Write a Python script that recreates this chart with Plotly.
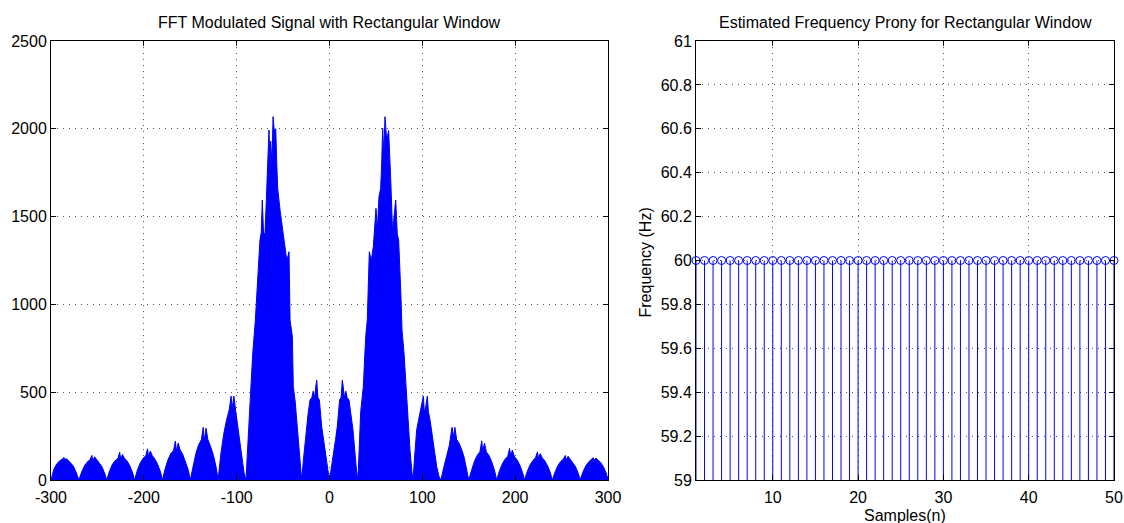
import plotly.graph_objects as go

# Magnitude spectrum of the modulated signal (rectangular window), outline vertices per lobe
FFT_FREQ = [
    -300, -297, -294, -291, -288, -286, -285, -284, -282, -279, -276, -273,
    -270, -267, -264, -261, -258, -256, -255, -253, -251, -248, -245, -242,
    -240, -237, -234, -231, -228, -226, -225, -223, -221, -218, -215, -212,
    -210, -207, -204, -201, -198, -196, -195, -193, -191, -188, -185, -182,
    -180, -177, -174, -171, -168, -166, -165, -163, -161, -158, -155, -152,
    -150, -147, -144, -141, -138, -136, -135, -133, -131, -128, -125, -122,
    -120, -117, -114, -111, -108, -106, -105, -104, -103, -101, -98, -95, -92,
    -90, -88, -85.6, -82.7, -80, -78.4, -76, -74.9, -73.5, -72.4, -71, -69.5,
    -68, -67, -65.2, -64, -63.4, -62, -60.8, -59.6, -57.9, -56.8, -55.8, -53.3,
    -51, -48.3, -46, -43.6, -42.5, -40, -39, -37, -35.3, -32.5,
    -30, -28, -25.3, -23, -21, -19, -17.6, -16, -14.6, -13.8, -12.5, -10.9,
    -8.4, -6.5, -4.8, -1.2,
    0, 1.2, 4.8, 6.5, 8.4, 10.9, 12.5, 13.8, 14.6, 16, 17.6, 19, 21, 23, 25.3, 28,
    30, 31.1, 33.6, 36.4, 39, 40.7, 42.9, 45, 47.2, 50.1, 51.5, 53.3, 55.1, 56.2,
    57.3, 58.5, 59.8, 61.6, 63.7, 65.9, 67, 68, 69.5, 71.3, 73, 74.5, 77, 78.1,
    80.3, 83.2, 86.7, 88.9,
    90, 91.5, 93.9, 95.5, 97.5, 99.5, 101.1, 102, 103.2, 105.4, 106.5, 108.3,
    110, 111.9, 115.5, 118,
    120, 123, 126, 129, 132, 134, 135, 137, 139, 142, 145, 148,
    150, 153, 156, 159, 162, 164, 165, 167, 169, 172, 175, 178,
    180, 183, 186, 189, 192, 194, 195, 197, 199, 202, 205, 208,
    210, 213, 216, 219, 222, 224, 225, 227, 229, 232, 235, 238,
    240, 243, 246, 249, 252, 254, 255, 257, 259, 262, 265, 268,
    270, 273, 276, 279, 282, 284, 285, 287, 289, 292, 295, 298, 300,
]
FFT_MAG = [
    0, 60, 90, 108, 118, 128, 112, 122, 115, 100, 80, 45,
    0, 45, 80, 102, 115, 140, 110, 132, 118, 100, 75, 35,
    0, 50, 88, 110, 122, 158, 120, 145, 125, 108, 80, 40,
    0, 55, 95, 122, 138, 178, 135, 165, 140, 118, 88, 45,
    0, 65, 115, 150, 168, 222, 165, 210, 172, 145, 105, 55,
    0, 80, 150, 200, 230, 300, 220, 295, 230, 190, 140, 70,
    0, 150, 260, 340, 400, 478, 410, 440, 478, 390, 280, 140, 40,
    0, 200, 456, 721, 900, 1044, 1200, 1367, 1410, 1594, 1400, 1405,
    1600, 1727, 1993, 1780, 1930, 1800, 2069, 1993, 2000, 1800, 1661, 1538,
    1450, 1319, 1250, 1300, 911, 816, 531, 450, 342, 114,
    0, 120, 285, 380, 456, 470, 506, 470, 540, 569, 470, 456,
    304, 230, 152, 38,
    0, 38, 152, 230, 304, 456, 470, 569, 540, 470, 506, 470, 456, 380, 285, 120,
    0, 60, 389, 531, 816, 911, 1300, 1250, 1329, 1547, 1420, 1614, 1660, 1800,
    2003, 1850, 2069, 1936, 1990, 1718, 1550, 1405, 1500, 1594, 1400, 1367, 1044, 854,
    721, 437, 171, 40,
    0, 120, 285, 330, 380, 420, 478, 400, 399, 478, 390, 342,
    280, 209, 76, 20,
    0, 70, 140, 195, 300, 240, 300, 230, 215, 180, 130, 60,
    0, 55, 105, 140, 160, 223, 165, 210, 160, 138, 100, 50,
    0, 50, 90, 118, 135, 180, 140, 170, 135, 115, 85, 42,
    0, 48, 86, 110, 128, 160, 125, 150, 128, 108, 80, 40,
    0, 45, 82, 105, 120, 140, 115, 135, 120, 102, 76, 38,
    0, 45, 80, 102, 116, 127, 112, 125, 116, 100, 76, 40, 5,
]
FREQ_AXIS_TICKS = [-300, -200, -100, 0, 100, 200, 300]
FREQ_AXIS_TEXT = ["-300", "-200", "-100", "0", "100", "200", "300"]

# Prony frequency estimate per sample
SAMPLES = list(range(1, 51))
PRONY_FREQ = [60.0] * 50
STEM_BASE = 59.0

FREQ_TICKS = [59.0, 59.2, 59.4, 59.6, 59.8, 60.0, 60.2, 60.4, 60.6, 60.8, 61.0]
FREQ_TICK_TEXT = ["59", "59.2", "59.4", "59.6", "59.8", "60", "60.2", "60.4", "60.6", "60.8", "61"]

BLUE = "#0000ff"
FONT = "Liberation Sans, Arial, Helvetica, sans-serif"
FS = 16

fig = go.Figure()

fig.add_trace(go.Scatter(
    x=FFT_FREQ, y=FFT_MAG, mode="lines",
    line=dict(color=BLUE, width=1),
    fill="tozeroy", fillcolor=BLUE,
    xaxis="x", yaxis="y", showlegend=False, hoverinfo="skip",
))

fig.add_trace(go.Scatter(
    x=SAMPLES, y=PRONY_FREQ, mode="markers",
    marker=dict(symbol="circle-open", size=8, color=BLUE, line=dict(width=1, color=BLUE)),
    error_y=dict(
        type="data", symmetric=False,
        array=[0] * len(PRONY_FREQ),
        arrayminus=[f - STEM_BASE for f in PRONY_FREQ],
        width=0, thickness=1, color=BLUE,
    ),
    cliponaxis=False,
    xaxis="x2", yaxis="y2", showlegend=False, hoverinfo="skip",
))

axis_common = dict(
    showline=True, linecolor="black", linewidth=1, mirror="ticks",
    ticks="inside", ticklen=5, tickcolor="black", tickwidth=1,
    showgrid=True, gridcolor="#555555", griddash="1px,5px", gridwidth=1,
    zeroline=False, automargin=False,
    tickfont=dict(family=FONT, size=FS, color="black"),
)

fig.update_layout(
    width=1124, height=523,
    margin=dict(l=0, r=0, t=0, b=0),
    paper_bgcolor="white", plot_bgcolor="white",
    showlegend=False,
    xaxis=dict(domain=[51 / 1124, 608 / 1124], range=[-300, 300],
               tickvals=FREQ_AXIS_TICKS, ticktext=FREQ_AXIS_TEXT,
               ticklabelstandoff=3, anchor="y", **axis_common),
    yaxis=dict(domain=[43 / 523, 482 / 523], range=[0, 2500], dtick=500,
               anchor="x", **axis_common),
    xaxis2=dict(domain=[696 / 1124, 1114 / 1124], range=[1, 50],
                tickvals=[10, 20, 30, 40, 50], ticklabelstandoff=3,
                anchor="y2", **axis_common),
    yaxis2=dict(domain=[43 / 523, 482 / 523], range=[59, 61],
                tickvals=FREQ_TICKS, ticktext=FREQ_TICK_TEXT, anchor="x2", **axis_common),
    annotations=[
        dict(text="FFT Modulated Signal with Rectangular Window",
             x=329.5 / 1124, y=(523 - 22.5) / 523, xref="paper", yref="paper",
             xanchor="center", yanchor="middle", showarrow=False,
             font=dict(family=FONT, size=FS, color="black")),
        dict(text="Estimated Frequency Prony for Rectangular Window",
             x=905 / 1124, y=(523 - 22.5) / 523, xref="paper", yref="paper",
             xanchor="center", yanchor="middle", showarrow=False,
             font=dict(family=FONT, size=FS, color="black")),
        dict(text="Samples(n)",
             x=905 / 1124, y=(523 - 515) / 523, xref="paper", yref="paper",
             xanchor="center", yanchor="middle", showarrow=False,
             font=dict(family=FONT, size=FS, color="black")),
        dict(text="Frequency (Hz)", textangle=-90,
             x=645 / 1124, y=260.5 / 523, xref="paper", yref="paper",
             xanchor="center", yanchor="middle", showarrow=False,
             font=dict(family=FONT, size=FS, color="black")),
    ],
)

fig.write_html("out.html")
